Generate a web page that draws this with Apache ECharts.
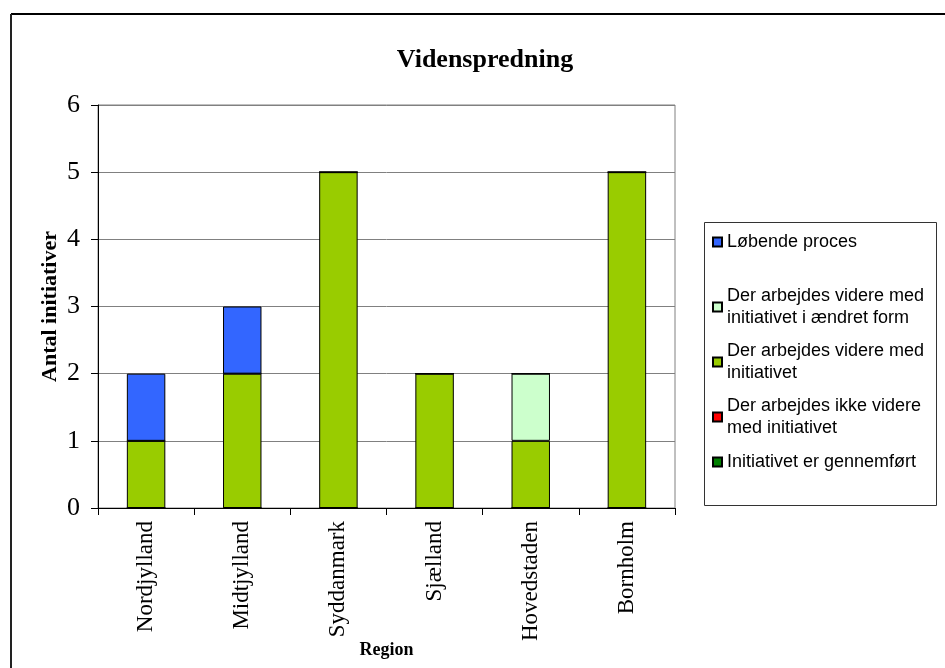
<!DOCTYPE html>
<html>
<head>
<meta charset="utf-8">
<script src="https://cdn.jsdelivr.net/npm/echarts@6/dist/echarts.min.js"></script>
<style>
html,body{margin:0;padding:0;background:#fff;}
#chart{width:945px;height:668px;}
</style>
</head>
<body>
<div id="chart"></div>
<script>
const titleText = 'Videnspredning';
const categories = ['Nordjylland', 'Midtjylland', 'Syddanmark', 'Sjælland', 'Hovedstaden', 'Bornholm'];
const yTicks = [0, 1, 2, 3, 4, 5, 6];
const xName = 'Region';
const yName = 'Antal initiativer';

// series, bottom of stack first
const seriesNames = [
  'Initiativet er gennemført',
  'Der arbejdes ikke videre med initiativet',
  'Der arbejdes videre med initiativet',
  'Der arbejdes videre med initiativet i ændret form',
  'Løbende proces'
];
const legendLabels = [
  'Initiativet er gennemført',
  'Der arbejdes ikke videre\nmed initiativet',
  'Der arbejdes videre med\ninitiativet',
  'Der arbejdes videre med\ninitiativet i ændret form',
  'Løbende proces'
];
const gennemfoert = [0, 0, 0, 0, 0, 0];
const ikkeVidere = [0, 0, 0, 0, 0, 0];
const videre = [1, 2, 5, 2, 1, 5];
const aendretForm = [0, 0, 0, 0, 1, 0];
const loebende = [1, 1, 0, 0, 0, 0];
const seriesValues = [gennemfoert, ikkeVidere, videre, aendretForm, loebende];
const seriesColors = ['#008000', '#FF0000', '#99CC00', '#CCFFCC', '#3366FF'];

// legend display order (top to bottom) and icon centre y
const legendOrder = [4, 3, 2, 1, 0];
const legendCenters = [242, 298, 353, 408, 462];

const chart = echarts.init(document.getElementById('chart'), null, {renderer: 'canvas'});

const serif = '"Liberation Serif", "Times New Roman", serif';
const sans = '"Liberation Sans", Arial, sans-serif';

const legends = legendOrder.map((si, i) => {
  const twoLine = legendLabels[si].indexOf('\n') >= 0;
  return {
    data: [seriesNames[si]],
    orient: 'vertical',
    left: 712,
    top: legendCenters[i] - 11,
    padding: 0,
    icon: 'rect',
    itemWidth: 9,
    itemHeight: 9,
    selectedMode: false,
    formatter: () => legendLabels[si],
    textStyle: {
      fontFamily: sans,
      fontSize: 18,
      color: '#000',
      lineHeight: 22,
      padding: twoLine ? [0, 0, -22, 0] : 0
    }
  };
});

const option = {
  backgroundColor: '#fff',
  animation: false,
  title: {
    text: titleText,
    left: 480,
    textAlign: 'center',
    top: 42,
    textStyle: {fontFamily: serif, fontSize: 26, fontWeight: 'bold', color: '#000'}
  },
  legend: legends,
  grid: {
    left: 98, top: 105, right: 270, bottom: 160,
    containLabel: false,
    outerBoundsMode: 'none',
    show: true, borderColor: '#808080', borderWidth: 1, backgroundColor: 'transparent'
  },
  xAxis: {
    type: 'category',
    data: categories,
    name: xName,
    nameLocation: 'middle',
    nameGap: 133,
    nameMoveOverlap: false,
    nameTextStyle: {fontFamily: serif, fontSize: 18, fontWeight: 'bold', color: '#000'},
    axisLine: {show: true, lineStyle: {color: '#000', width: 1}},
    axisTick: {show: true, alignWithLabel: false, length: 7, lineStyle: {color: '#000'}},
    axisLabel: {rotate: 90, margin: 13, fontFamily: serif, fontSize: 23, color: '#000'},
    splitLine: {show: false}
  },
  yAxis: {
    type: 'value',
    min: yTicks[0],
    max: yTicks[yTicks.length - 1],
    interval: 1,
    name: yName,
    nameLocation: 'middle',
    nameGap: 37,
    nameMoveOverlap: false,
    nameTextStyle: {fontFamily: serif, fontSize: 22, fontWeight: 'bold', color: '#000'},
    axisLine: {show: true, lineStyle: {color: '#000', width: 1}},
    axisTick: {show: true, length: 7, lineStyle: {color: '#000'}},
    axisLabel: {margin: 18, fontFamily: serif, fontSize: 26, color: '#000'},
    splitLine: {show: true, lineStyle: {color: '#808080', width: 1}}
  },
  graphic: [
    {type: 'line', shape: {x1: 11, y1: 14, x2: 945, y2: 14}, style: {stroke: '#000', lineWidth: 2}, z: 100},
    {type: 'line', shape: {x1: 11, y1: 14, x2: 11, y2: 668}, style: {stroke: '#222', lineWidth: 2}, z: 100},
    {type: 'rect', shape: {x: 704.5, y: 222.5, width: 232, height: 283}, style: {fill: '#fff', stroke: '#333', lineWidth: 1}, z: -1}
  ],
  series: seriesNames.map((n, i) => ({
    name: n,
    type: 'bar',
    stack: 'total',
    barWidth: '40%',
    data: seriesValues[i],
    itemStyle: {color: seriesColors[i], borderColor: '#000', borderWidth: 1}
  }))
};
chart.setOption(option);
</script>
</body>
</html>
